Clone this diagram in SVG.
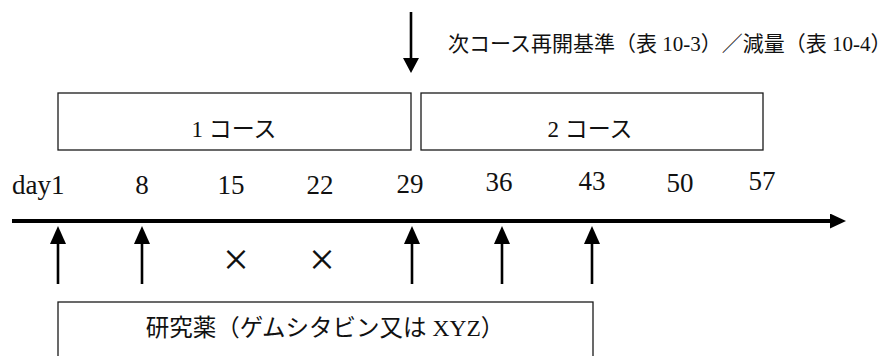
<svg xmlns="http://www.w3.org/2000/svg" width="895" height="356" viewBox="0 0 895 356">
<style>
  .box { fill: #fff; stroke: #1a1a1a; stroke-width: 1.3; }
  .t { font-family: "Liberation Serif", "Noto Sans CJK JP", serif; fill: #111; }
  .jp { font-size: 23px; }
  .num { font-size: 27px; text-anchor: middle; }
  .mark { font-size: 46px; text-anchor: middle; }
  .arr { stroke: #000; stroke-width: 2.6; fill: none; }
  .axis { stroke: #000; stroke-width: 4; fill: none; }
</style>
<defs>
  <marker id="head" markerUnits="userSpaceOnUse" markerWidth="20" markerHeight="18" refX="0" refY="8" orient="auto">
    <path d="M0,0 L18,8 L0,16 z" fill="#000"/>
  </marker>
  <marker id="headDown" markerUnits="userSpaceOnUse" markerWidth="18" markerHeight="18" refX="0" refY="8" orient="auto">
    <path d="M0,0 L15,8 L0,16 z" fill="#000"/>
  </marker>
  <marker id="headAxis" markerUnits="userSpaceOnUse" markerWidth="18" markerHeight="18" refX="0" refY="7.5" orient="auto">
    <path d="M0,0 L16,7.5 L0,15 z" fill="#000"/>
  </marker>
</defs>

<g id="connectors">
  <line class="arr" x1="411" y1="12" x2="411" y2="58" marker-end="url(#headDown)"/>
  <line class="axis" x1="12" y1="221" x2="830" y2="221" marker-end="url(#headAxis)"/>
  <line class="arr" x1="58" y1="284" x2="58" y2="244" marker-end="url(#head)"/>
  <line class="arr" x1="142" y1="284" x2="142" y2="244" marker-end="url(#head)"/>
  <line class="arr" x1="412" y1="284" x2="412" y2="244" marker-end="url(#head)"/>
  <line class="arr" x1="502" y1="284" x2="502" y2="244" marker-end="url(#head)"/>
  <line class="arr" x1="592" y1="284" x2="592" y2="244" marker-end="url(#head)"/>
</g>

<g id="restart-label">
  <text class="t" x="448" y="51" font-size="21">次コース再開基準（表 10-3）／減量（表 10-4）</text>
</g>

<g id="course1">
  <rect class="box" x="58" y="93" width="353" height="57"/>
  <text class="t jp" x="234" y="137" text-anchor="middle">1 コース</text>
</g>

<g id="course2">
  <rect class="box" x="421" y="93" width="342" height="57"/>
  <text class="t jp" x="590" y="137" text-anchor="middle">2 コース</text>
</g>

<g id="day-labels">
  <text class="t" x="12" y="194" font-size="27">day1</text>
  <text class="t num" x="142" y="194">8</text>
  <text class="t num" x="231" y="194">15</text>
  <text class="t num" x="320" y="194">22</text>
  <text class="t num" x="410" y="193">29</text>
  <text class="t num" x="499" y="191">36</text>
  <text class="t num" x="592" y="190">43</text>
  <text class="t num" x="680" y="192">50</text>
  <text class="t num" x="762" y="190">57</text>
</g>

<g id="skip-marks">
  <text class="t mark" x="236" y="275">×</text>
  <text class="t mark" x="322" y="275">×</text>
</g>

<g id="drug">
  <rect class="box" x="58" y="302" width="535" height="70"/>
  <text class="t" x="325" y="336" font-size="23.5" text-anchor="middle">研究薬（ゲムシタビン又は XYZ）</text>
</g>
</svg>
